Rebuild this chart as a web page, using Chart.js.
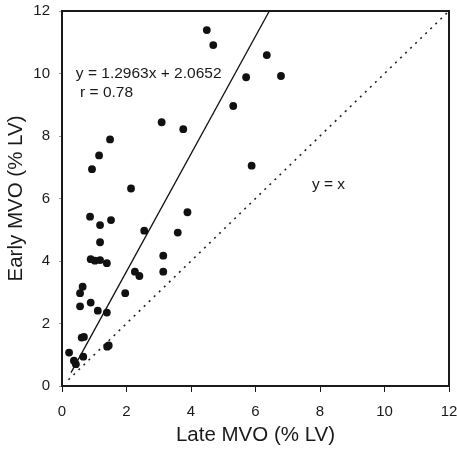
<!DOCTYPE html>
<html>
<head>
<meta charset="utf-8">
<script src="https://cdn.jsdelivr.net/npm/chart.js@4/dist/chart.umd.min.js"></script>
<style>
  html, body { margin: 0; padding: 0; background: #fff; }
  #wrap { width: 457px; height: 455px; }
</style>
</head>
<body>
<div id="wrap"><canvas id="myChart"></canvas></div>
<script>
// late vs early MVO
var lateMVO  = [4.49, 4.69, 3.09, 3.76, 1.49, 1.15, 0.93, 2.14, 6.35, 5.71, 6.79, 5.31, 5.88,
                0.87, 1.52, 1.18, 3.89, 2.55, 1.18, 3.59, 0.89, 1.02, 1.18, 1.39, 3.14, 3.14,
                2.26, 2.40, 0.64, 0.56, 0.89, 0.56, 1.96, 1.11, 1.39, 0.61, 0.68, 1.40, 1.45,
                0.22, 0.37, 0.43, 0.66];
var earlyMVO = [11.39, 10.91, 8.44, 8.22, 7.89, 7.38, 6.94, 6.32, 10.59, 9.88, 9.92, 8.96, 7.05,
                5.42, 5.31, 5.15, 5.56, 4.97, 4.60, 4.91, 4.06, 4.01, 4.03, 3.93, 4.17, 3.66,
                3.66, 3.52, 3.18, 2.97, 2.67, 2.55, 2.97, 2.41, 2.35, 1.55, 1.57, 1.26, 1.30,
                1.07, 0.81, 0.70, 0.94];

// fitted line as drawn, and the identity line
var fitX = [0.28, 6.43];
var fitY = [0.43, 12];
var idX = [0.2, 12];
var idY = [0.2, 12];

var tickValues = [0, 2, 4, 6, 8, 10, 12];

function toPoints(xs, ys) {
  return xs.map(function (x, i) { return { x: x, y: ys[i] }; });
}

var FONT = "'Liberation Sans', Arial, sans-serif";
var INK = '#1a1a1a';

// frame + text labels
var extras = {
  id: 'extras',
  afterDraw: function (chart) {
    var c = chart.ctx, a = chart.chartArea;
    var xs = chart.scales.x, ys = chart.scales.y;
    c.save();
    c.strokeStyle = INK;
    c.lineWidth = 2;
    c.strokeRect(a.left, a.top, a.right - a.left, a.bottom - a.top);
    c.fillStyle = INK;
    c.font = '15.5px ' + FONT;
    c.textBaseline = 'middle';
    c.fillText('y = 1.2963x + 2.0652', xs.getPixelForValue(0.43), ys.getPixelForValue(10.0));
    c.fillText('r = 0.78', xs.getPixelForValue(0.56), ys.getPixelForValue(9.4));
    c.fillText('y = x', xs.getPixelForValue(7.75), ys.getPixelForValue(6.45));
    c.restore();
  }
};

var ctx = document.getElementById('myChart').getContext('2d');
var myChart = new Chart(ctx, {
  type: 'scatter',
  data: {
    datasets: [{
      label: 'MVO',
      data: toPoints(lateMVO, earlyMVO),
      backgroundColor: '#111',
      borderWidth: 0,
      pointRadius: 3.9
    }, {
      label: 'fit',
      data: toPoints(fitX, fitY),
      showLine: true,
      borderColor: '#111',
      borderWidth: 1.3,
      pointRadius: 0
    }, {
      label: 'y = x',
      data: toPoints(idX, idY),
      showLine: true,
      borderColor: '#222',
      borderWidth: 1.6,
      borderDash: [2, 5],
      pointRadius: 0
    }]
  },
  options: {
    responsive: true,
    maintainAspectRatio: false,
    animation: false,
    layout: { padding: 0 },
    plugins: { legend: { display: false }, tooltip: { enabled: false } },
    scales: {
      x: {
        type: 'linear',
        min: 0, max: 12,
        afterBuildTicks: function (s) { s.ticks = tickValues.map(function (v) { return { value: v }; }); },
        afterFit: function (s) { s.height = 69; s.paddingRight = 8; },
        grid: { display: true, drawOnChartArea: false, tickLength: 6, color: INK, lineWidth: 1 },
        border: { display: false },
        ticks: { color: INK, padding: 11, font: { family: FONT, size: 15 } },
        title: { display: true, text: 'Late MVO (% LV)', color: INK, padding: { top: 2, bottom: 7 },
                 font: { family: FONT, size: 20.5 } }
      },
      y: {
        type: 'linear',
        min: 0, max: 12,
        afterBuildTicks: function (s) { s.ticks = tickValues.map(function (v) { return { value: v }; }); },
        afterFit: function (s) { s.width = 62; s.paddingTop = 11; },
        grid: { display: true, drawOnChartArea: false, tickLength: 3, color: '#999', lineWidth: 1 },
        border: { display: false },
        ticks: { color: INK, padding: 9, font: { family: FONT, size: 15 } },
        title: { display: true, text: 'Early MVO (% LV)', color: INK, padding: { top: 4, bottom: 2 },
                 font: { family: FONT, size: 20.5 } }
      }
    }
  },
  plugins: [extras]
});
</script>
</body>
</html>
